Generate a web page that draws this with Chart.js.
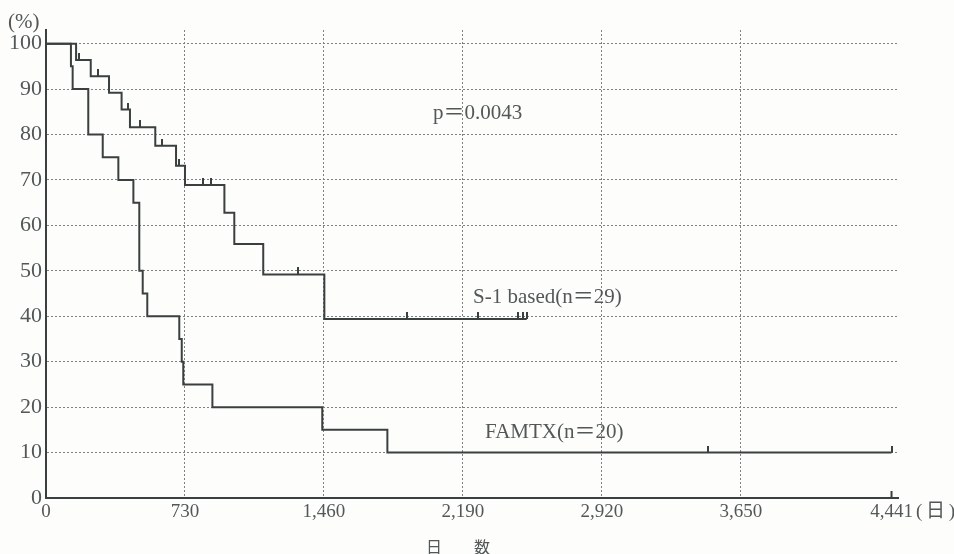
<!DOCTYPE html>
<html>
<head>
<meta charset="utf-8">
<script src="https://cdn.jsdelivr.net/npm/chart.js@4/dist/chart.umd.min.js"></script>
<style>
  html, body { margin: 0; padding: 0; background: #fdfdfb; }
  #wrap { width: 954px; height: 554px; position: relative; }
</style>
</head>
<body>
<div id="wrap"><canvas id="km"></canvas></div>
<script>
// Kaplan-Meier: S-1 based vs FAMTX (days / % survival)
const s1Days = [0, 158, 235, 331, 397, 441, 574, 683, 730, 937, 989, 1141, 1462, 2525];
const s1Surv = [100, 96.4, 92.8, 89.2, 85.5, 81.6, 77.5, 73.1, 68.9, 62.8, 55.9, 49.2, 39.4, 39.4];
const s1Censored = [173, 271, 429, 494, 608, 699, 826, 865, 1325, 1894, 2271, 2481, 2503, 2525];

const famtxDays = [0, 131, 140, 222, 298, 380, 459, 490, 508, 532, 700, 713, 721, 874, 1451, 1793, 4441];
const famtxSurv = [100, 95, 90, 80, 75, 70, 65, 50, 45, 40, 35, 30, 25, 20, 15, 10, 10];
const famtxCensored = [3478, 4441];

const xTicks = [0, 730, 1460, 2190, 2920, 3650, 4441];
const yTicks = [0, 10, 20, 30, 40, 50, 60, 70, 80, 90, 100];

const labels = [
  { text: 'p\uFF1D0.0043', x: 2033, y: 84.7 },
  { text: 'S-1 based(n\uFF1D29)', x: 2243, y: 44.2 },
  { text: 'FAMTX(n\uFF1D20)', x: 2306, y: 14.5 }
];

const INK = '#3a4040';
const TEXT = '#525858';
const GRID = '#7a8282';
const SERIF = '"Liberation Serif", "Noto Sans CJK JP", serif';

function toPoints(days, surv) {
  return days.map((d, i) => ({ x: d, y: surv[i] }));
}

// value of the step curve at a given day (for placing censor ticks)
function survAt(days, surv, day) {
  let v = surv[0];
  for (let i = 0; i < days.length; i++) if (days[i] <= day) v = surv[i];
  return v;
}

// censor tick: short vertical stroke going up from the curve
function censorMark() {
  const c = document.createElement('canvas');
  c.width = 2; c.height = 14;
  const g = c.getContext('2d');
  g.fillStyle = INK;
  g.fillRect(0, 0, 2, 7);
  return c;
}
const tick = censorMark();

const annotations = {
  id: 'annotations',
  afterDraw(chart) {
    const { ctx, chartArea, scales: { x, y } } = chart;
    ctx.save();
    ctx.fillStyle = TEXT;
    ctx.textBaseline = 'middle';
    ctx.textAlign = 'left';
    ctx.font = '21px ' + SERIF;
    labels.forEach(l => ctx.fillText(l.text, x.getPixelForValue(l.x), y.getPixelForValue(l.y)));

    // unit on the y axis
    ctx.font = '21px ' + SERIF;
    ctx.fillText('(%)', chartArea.left - 38, chartArea.top - 8);

    // unit after the last x label, plus the small end tick on the axis
    const last = xTicks[xTicks.length - 1];
    const px = x.getPixelForValue(last);
    ctx.font = '19px ' + SERIF;
    const w = ctx.measureText(last.toLocaleString('en-US')).width;
    ctx.fillText('(\u2009\u65E5\u2009)', px + w / 2 + 3, 512);
    ctx.fillStyle = INK;
    ctx.fillRect(px - 1, chartArea.bottom - 7, 2, 7);

    // axis title
    ctx.fillStyle = TEXT;
    ctx.font = '16px "Noto Sans CJK JP"';
    ctx.textAlign = 'center';
    ctx.fillText('\u65E5\u3000\u3000\u6570', (chartArea.left + chartArea.right) / 2 - 14, 547);
    ctx.restore();
  }
};

Chart.defaults.font.family = SERIF;
Chart.defaults.color = TEXT;

new Chart(document.getElementById('km'), {
  type: 'line',
  data: {
    datasets: [
      { label: 'S-1 based', data: toPoints(s1Days, s1Surv), stepped: true, borderColor: INK, borderWidth: 2, pointRadius: 0 },
      { label: 'FAMTX', data: toPoints(famtxDays, famtxSurv), stepped: true, borderColor: INK, borderWidth: 2, pointRadius: 0 },
      { type: 'scatter', label: 'S-1 censored', data: s1Censored.map(d => ({ x: d, y: survAt(s1Days, s1Surv, d) })), pointStyle: tick, pointRadius: 7 },
      { type: 'scatter', label: 'FAMTX censored', data: famtxCensored.map(d => ({ x: d, y: survAt(famtxDays, famtxSurv, d) })), pointStyle: tick, pointRadius: 7 }
    ]
  },
  options: {
    responsive: true,
    maintainAspectRatio: false,
    animation: false,
    layout: { padding: { top: 30, right: 56, left: 0, bottom: 0 } },
    plugins: { legend: { display: false }, tooltip: { enabled: false } },
    scales: {
      x: {
        type: 'linear',
        min: 0,
        max: 4475,
        afterBuildTicks: s => { s.ticks = xTicks.map(v => ({ value: v })); },
        afterFit: s => { s.height = 56; },
        ticks: {
          autoSkip: false, maxRotation: 0, padding: 3,
          font: { size: 19 }, color: TEXT,
          callback: v => v.toLocaleString('en-US')
        },
        grid: {
          drawTicks: false, lineWidth: 1,
          color: c => (c.tick && (c.tick.value === 0 || c.tick.value === 4441)) ? 'rgba(0,0,0,0)' : GRID
        },
        border: { display: true, color: INK, width: 2, dash: [2, 2] }
      },
      y: {
        min: 0,
        max: 103,
        afterBuildTicks: s => { s.ticks = yTicks.map(v => ({ value: v })); },
        afterFit: s => { s.width = 46; },
        ticks: { padding: 4, font: { size: 22 }, color: TEXT },
        grid: {
          drawTicks: false, lineWidth: 1,
          color: c => (c.tick && c.tick.value === 0) ? 'rgba(0,0,0,0)' : GRID
        },
        border: { display: true, color: INK, width: 2, dash: [2, 2] }
      }
    }
  },
  plugins: [annotations]
});
</script>
</body>
</html>
